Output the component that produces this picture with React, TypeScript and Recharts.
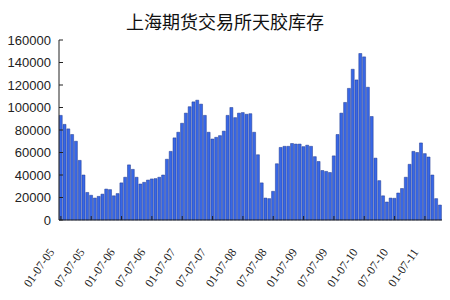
import { BarChart, Bar, XAxis, YAxis } from 'recharts';

const TITLE = '上海期货交易所天胶库存';

// half-year tick labels, one every 8 bars
const tickLabels = [
  '01-07-05', '07-07-05', '01-07-06', '07-07-06', '01-07-07', '07-07-07',
  '01-07-08', '07-07-08', '01-07-09', '07-07-09', '01-07-10', '07-07-10', '01-07-11',
];

// inventory (tons)
const stock2005 = [
  93000, 85000, 81000, 76000, 70000, 53000, 40000, 24500,
  22000, 19500, 21000, 23000, 27500, 27000, 21500, 23500,
];
const stock2006 = [
  33000, 38000, 49000, 45000, 38000, 32000, 33500, 35500,
  36500, 36800, 38000, 40000, 54000, 61000, 73000, 78000,
];
const stock2007 = [
  86000, 95000, 100700, 105000, 106500, 103000, 93000, 78000,
  72000, 73500, 75000, 79000, 93000, 100000, 91000, 95000,
];
const stock2008 = [
  95500, 94000, 94500, 78000, 58000, 33000, 19500, 19000,
  25500, 50000, 64500, 65500, 65500, 68000, 67500, 67500,
];
const stock2009 = [
  65200, 66500, 65500, 56300, 52000, 44000, 43200, 42200,
  57000, 76000, 95000, 104500, 117000, 134000, 124500, 148000,
];
const stock2010 = [
  145000, 118000, 92000, 55000, 35000, 21500, 16000, 19500,
  19300, 24000, 28000, 38000, 49500, 61000, 60000, 68500,
];
const stock2011 = [59000, 56000, 40000, 19000, 13300];

const values = [
  ...stock2005, ...stock2006, ...stock2007, ...stock2008,
  ...stock2009, ...stock2010, ...stock2011,
];

const data = values.map((v, i) => ({ i, v }));

const yTicks = [0, 20000, 40000, 60000, 80000, 100000, 120000, 140000, 160000];

const XTick = ({ x, y, payload }: any) => {
  const label = tickLabels[payload.value / 8];
  return (
    <g>
      <line x1={x} y1={y} x2={x} y2={y - 4} stroke="#222" />
      <text
        transform={`translate(${x - 6},${y + 32}) rotate(-55)`}
        textAnchor="end"
        fontSize={12}
        fontFamily="'Liberation Serif', serif"
        fill="#222"
      >
        {label}
      </text>
    </g>
  );
};

const YTick = ({ x, y, payload }: any) => (
  <g>
    <line x1={x} y1={y} x2={x + 4} y2={y} stroke="#222" />
    <text
      x={x - 8}
      y={y}
      dy="0.35em"
      textAnchor="end"
      fontSize={13}
      fontFamily="'Liberation Sans', Arial, sans-serif"
      fill="#222"
    >
      {payload.value}
    </text>
  </g>
);

export default function App() {
  return (
    <div style={{ position: 'absolute', left: 0, top: 0, width: 450, height: 300, background: '#fff' }}>
      <div
        style={{
          position: 'absolute',
          left: 0,
          top: 9,
          width: 450,
          textAlign: 'center',
          fontSize: 18,
          lineHeight: '24px',
          fontFamily: "'Noto Sans CJK SC', sans-serif",
          color: '#111',
        }}
      >
        {TITLE}
      </div>
      <BarChart
        width={450}
        height={300}
        data={data}
        margin={{ top: 40, right: 8, bottom: 0, left: 0 }}
        barCategoryGap="6%"
      >
        <XAxis
          dataKey="i"
          height={80}
          interval={7}
          tickSize={0}
          tickMargin={0}
          tick={<XTick />}
          axisLine={{ stroke: '#222' }}
          tickLine={false}
        />
        <YAxis
          width={59}
          domain={[0, 160000]}
          ticks={yTicks}
          interval={0}
          tickSize={0}
          tickMargin={0}
          tick={<YTick />}
          axisLine={{ stroke: '#222' }}
          tickLine={false}
        />
        <Bar
          dataKey="v"
          fill="#3867e6"
          stroke="#233a8c"
          strokeWidth={0.5}
          isAnimationActive={false}
        />
      </BarChart>
    </div>
  );
}
